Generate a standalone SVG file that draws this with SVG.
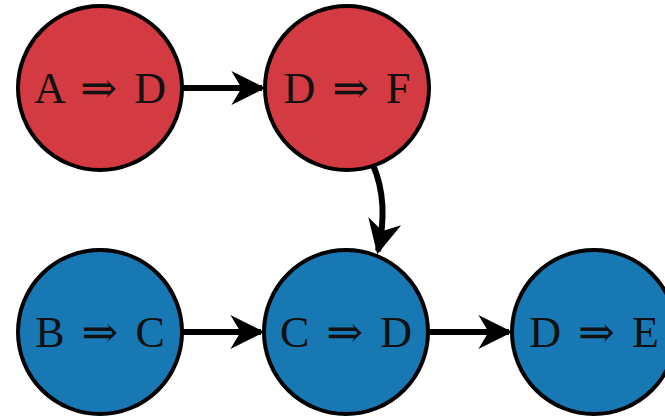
<svg xmlns="http://www.w3.org/2000/svg" width="665" height="416" viewBox="0 0 665 416">
<style>
.red{fill:#d33a41;stroke:#000;stroke-width:4}
.blue{fill:#1778b3;stroke:#000;stroke-width:4}
.lbl{font-family:"Liberation Serif","DejaVu Serif",serif;font-size:44px;fill:#111;text-anchor:middle;word-spacing:6px}
.edge{fill:none;stroke:#000;stroke-width:6}
</style>
<defs>
<marker id="ah" viewBox="0 0 10 10" refX="9" refY="5" markerUnits="userSpaceOnUse" markerWidth="34" markerHeight="34" orient="auto">
<path d="M0,0 L10,5 L0,10 L3,5 Z" fill="#000"/>
</marker>
</defs>
<g id="connectors">
<line class="edge" x1="183" y1="88" x2="262" y2="88" marker-end="url(#ah)"/>
<line class="edge" x1="183" y1="332" x2="261" y2="332" marker-end="url(#ah)"/>
<line class="edge" x1="429" y1="332" x2="509" y2="332" marker-end="url(#ah)"/>
<path class="edge" d="M373,165 C386,195 384,225 378,251" marker-end="url(#ah)"/>
</g>
<g id="nAD"><circle class="red" cx="100" cy="88" r="82"/><text class="lbl" x="100" y="103">A ⇒ D</text></g>
<g id="nDF"><circle class="red" cx="347" cy="88" r="82"/><text class="lbl" x="347" y="103">D ⇒ F</text></g>
<g id="nBC"><circle class="blue" cx="100" cy="332" r="82"/><text class="lbl" x="100" y="347">B ⇒ C</text></g>
<g id="nCD"><circle class="blue" cx="346" cy="332" r="82"/><text class="lbl" x="346" y="347">C ⇒ D</text></g>
<g id="nDE"><circle class="blue" cx="594" cy="332" r="82"/><text class="lbl" x="594" y="347">D ⇒ E</text></g>
</svg>
